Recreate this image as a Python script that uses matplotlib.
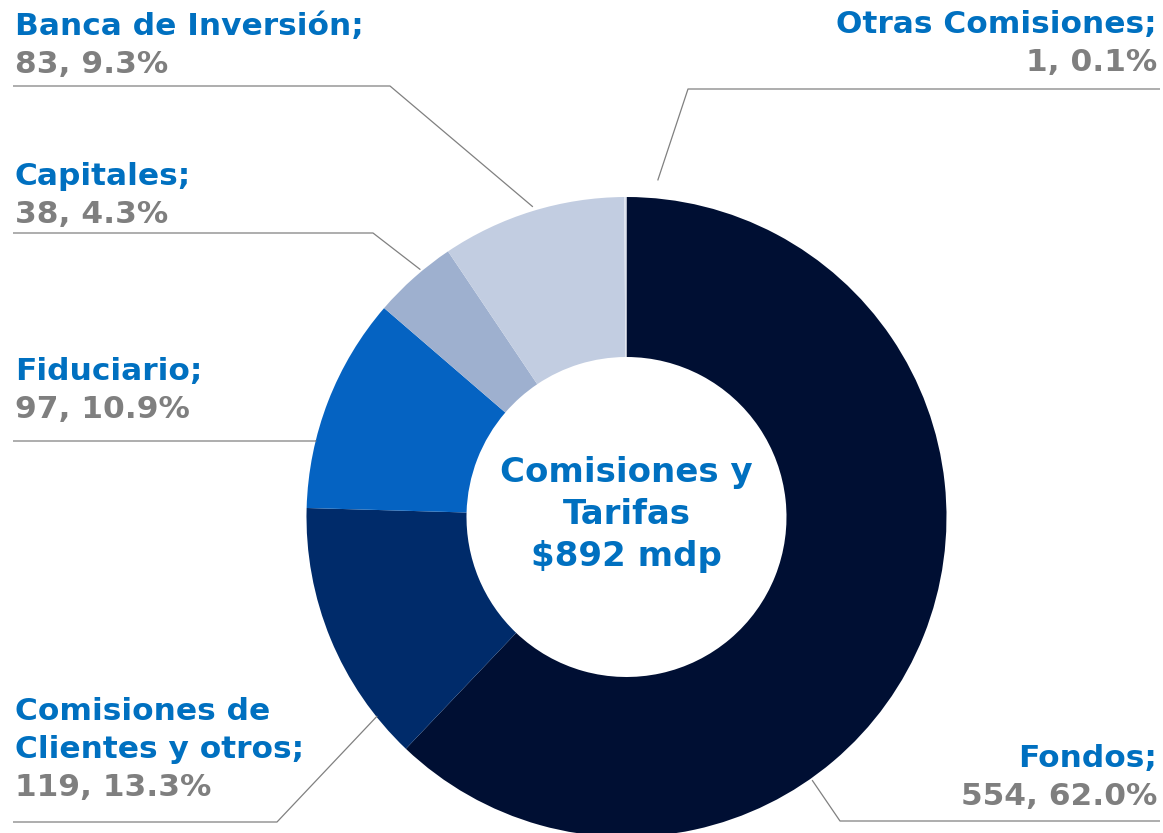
import numpy as np
import matplotlib
matplotlib.use("Agg")
import matplotlib.pyplot as plt

# Datos del gráfico
categorias = ["Fondos", "Comisiones de\nClientes y otros", "Fiduciario",
              "Capitales", "Banca de Inversión", "Otras Comisiones"]
valores = [554, 119, 97, 38, 83, 1]
porcentajes = ["62.0%", "13.3%", "10.9%", "4.3%", "9.3%", "0.1%"]
colores = ["#000f33", "#002b6a", "#0563c2", "#9eb0cf", "#c2cde1", "#dde3ef"]
titulo_centro = "Comisiones y\nTarifas\n$892 mdp"

AZUL = "#0070c0"
GRIS = "#7f7f7f"
W, H = 1163, 833
CX, CY, R = 626.5, 517, 320

fig = plt.figure(figsize=(W / 100, H / 100), dpi=100)
ax = fig.add_axes([0, 0, 1, 1])

ax.pie(valores, colors=colores, startangle=90, counterclock=False,
       radius=R, center=(CX, H - CY),
       wedgeprops=dict(width=R / 2, linewidth=0))
ax.set_xlim(0, W)
ax.set_ylim(0, H)
ax.set_aspect("equal")
ax.axis("off")

# posiciones de etiquetas (px desde arriba): x texto, baseline 1a linea, alineación,
# codo de la linea guia, extremo horizontal, angulo y radio de la punta
layout = {
    "Fondos":             (1157, 767, "right", (840, 821), 1160, -54.8, 322),
    "Comisiones de\nClientes y otros": (15, 720, "left", (277, 822), 13, -141.4, 319),
    "Fiduciario":         (15, 380, "left", (316, 441), 13, 166.3, 320),
    "Capitales":          (15, 185, "left", (373, 233), 13, 129.8, 322),
    "Banca de Inversión": (15, 35, "left", (390, 86), 13, 106.8, 324),
    "Otras Comisiones":   (1157, 33, "right", (688, 89), 1160, 84.7, 338),
}

fs = 22.5
salto = 38
for cat, val, pct in zip(categorias, valores, porcentajes):
    tx, ty, ha, codo, xfin, ang, rr = layout[cat]
    lineas = (cat + ";").split("\n")
    for i, ln in enumerate(lineas):
        ax.text(tx, H - (ty + i * salto), ln, ha=ha, va="baseline",
                fontsize=fs, fontweight="bold", color=AZUL, family="DejaVu Sans")
    ax.text(tx, H - (ty + len(lineas) * salto), f"{val}, {pct}", ha=ha,
            va="baseline", fontsize=fs, fontweight="bold", color=GRIS,
            family="DejaVu Sans")
    # linea guia
    px = CX + rr * np.cos(np.radians(ang))
    py = H - CY + rr * np.sin(np.radians(ang))
    ax.plot([px, codo[0], xfin], [py, H - codo[1], H - codo[1]],
            color="#808080", lw=0.9, solid_capstyle="butt")

# texto central
for i, ln in enumerate(titulo_centro.split("\n")):
    ax.text(CX, H - (482 + i * 42), ln, ha="center", va="baseline",
            fontsize=24.5, fontweight="bold", color=AZUL, family="DejaVu Sans")

fig.savefig("out.png", dpi=100)
